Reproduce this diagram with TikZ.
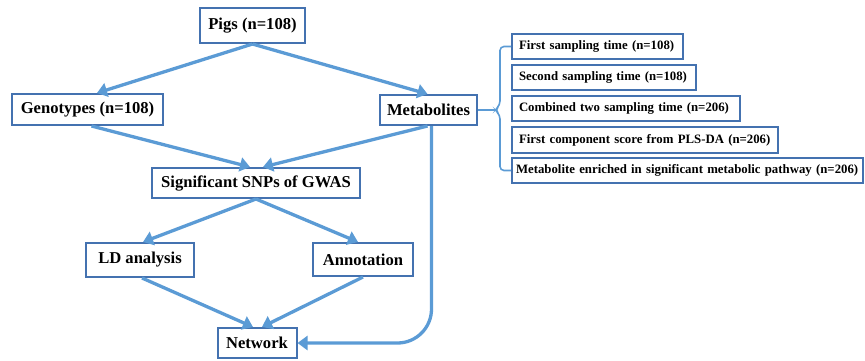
\documentclass[tikz,border=0pt]{standalone}
\usepackage{fontspec}
\setmainfont{Liberation Serif}
\usetikzlibrary{arrows.meta}
\definecolor{boxblue}{HTML}{4472B0}
\definecolor{arrblue}{HTML}{5B9BD5}
\tikzset{
  mainbox/.style={draw=boxblue, line width=2pt, fill=white, inner sep=0pt, font=\fontsize{16.6}{18}\selectfont\bfseries},
  subbox/.style={draw=boxblue, line width=2pt, fill=white, inner sep=0pt, font=\fontsize{12.8}{14}\selectfont\bfseries},
  flow/.style={draw=arrblue, line width=3.3pt, -{Triangle[length=10pt,width=14pt]}},
  bracket/.style={draw=arrblue, line width=1.6pt, rounded corners=4pt}
}
\begin{document}
\begin{tikzpicture}[x=1pt,y=-1pt]
\useasboundingbox (0,0) rectangle (865,360);
\node[mainbox, minimum width=105pt, minimum height=35pt] (pigs) at (252.5,25.5) {Pigs (n=108)};
\node[mainbox, minimum width=151pt, minimum height=31pt] (geno) at (87.5,109.5) {Genotypes (n=108)};
\node[mainbox, minimum width=97pt, minimum height=30pt] (metab) at (428.5,110) {Metabolites};
\node[mainbox, minimum width=208pt, minimum height=30pt] (snps) at (256,183) {Significant SNPs of GWAS};
\node[mainbox, minimum width=108pt, minimum height=34pt] (ld) at (140,260) {LD analysis};
\node[mainbox, minimum width=100pt, minimum height=33pt] (annot) at (363,259.5) {Annotation};
\node[mainbox, minimum width=79pt, minimum height=30pt] (net) at (257,343) {Network};

\node[subbox, minimum width=171pt, minimum height=25pt, text width=157pt, align=left] (r1) at (597.5,46.5) {First sampling time (n=108)};
\node[subbox, minimum width=184pt, minimum height=25pt, text width=170pt, align=left] (r2) at (604,77.5) {Second sampling time (n=108)};
\node[subbox, minimum width=228pt, minimum height=25pt, text width=214pt, align=left] (r3) at (626,108.5) {Combined two sampling time (n=206)};
\node[subbox, minimum width=266pt, minimum height=26pt, text width=252pt, align=left] (r4) at (645,140) {First component score from PLS-DA (n=206)};
\node[subbox, minimum width=351pt, minimum height=25pt, text width=343pt, align=left] (r5) at (687.5,170.5) {Metabolite enriched in significant metabolic pathway (n=206)};

\coordinate (bk) at (495,110);
\draw[bracket] (r1.west) -- (500,46.5) -- (500,105) -- (bk) -- (500,115) -- (500,170.5) -- (r5.west);
\draw[draw=arrblue, line width=1.6pt] (metab.east) -- (bk);

\draw[flow] (pigs.south) -- ([xshift=9.5pt]geno.north);
\draw[flow] (pigs.south) -- ([xshift=-1pt]metab.north);
\draw[flow] ([xshift=4pt]geno.south) -- ([xshift=-6pt]snps.north);
\draw[flow] ([xshift=-1pt]metab.south) -- ([xshift=7pt]snps.north);
\draw[flow] (snps.south) -- ([xshift=3pt]ld.north);
\draw[flow] (snps.south) -- ([xshift=-5pt]annot.north);
\draw[flow] ([xshift=2pt]ld.south) -- ([xshift=-4pt]net.north);
\draw[flow] (annot.south) -- ([xshift=5pt]net.north);
\draw[flow, rounded corners=34pt] ([xshift=3pt]metab.south) |- (net.east);
\end{tikzpicture}
\end{document}
